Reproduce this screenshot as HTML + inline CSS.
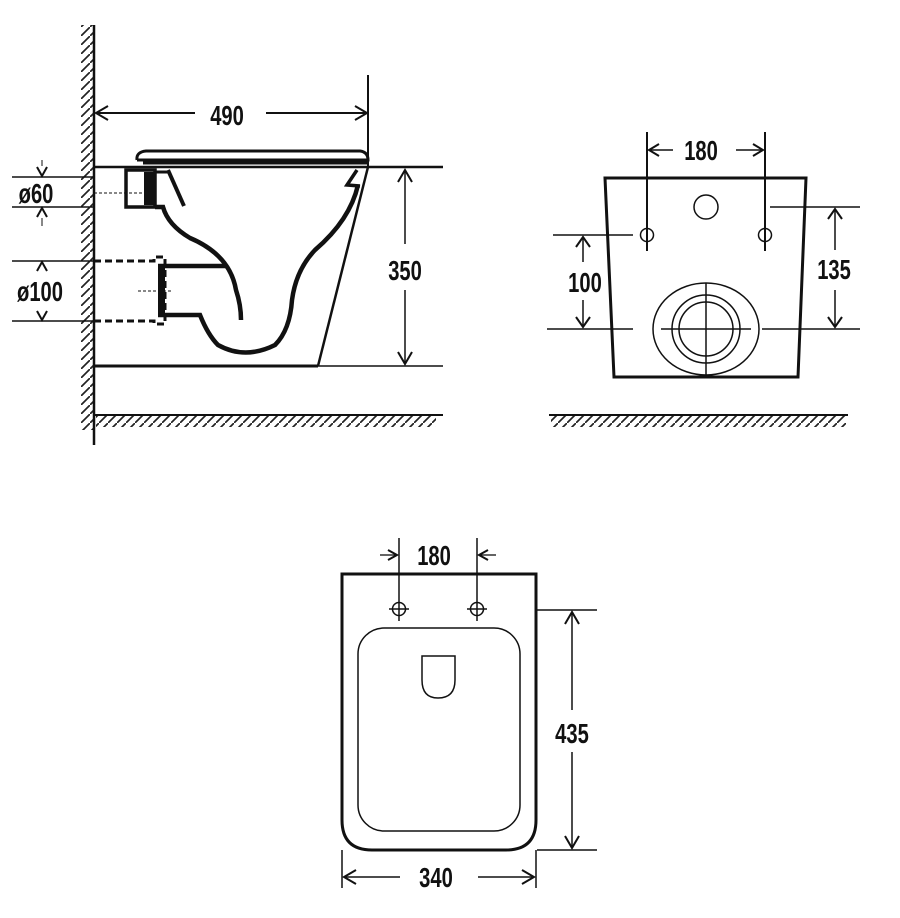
<!DOCTYPE html>
<html><head><meta charset="utf-8"><style>
html,body{margin:0;padding:0;background:#fff;}
svg{display:block}
text{font-family:"Liberation Sans Narrow","Liberation Sans",sans-serif;font-weight:bold;fill:#111;}
</style></head><body>
<svg width="900" height="918" viewBox="0 0 900 918" xmlns="http://www.w3.org/2000/svg">
<defs>
<pattern id="hv" width="9" height="9" patternUnits="userSpaceOnUse">
<line x1="0" y1="9" x2="9" y2="0" stroke="#222" stroke-width="1.7"/>
</pattern>
</defs>
<g stroke="#111" fill="none">
<!-- SIDE VIEW -->
<rect x="81" y="25" width="13" height="405" fill="url(#hv)" stroke="none"/>
<line x1="94" y1="25" x2="94" y2="445" stroke-width="2.5"/>
<rect x="96" y="416" width="340" height="11" fill="url(#hv)" stroke="none"/>
<line x1="94" y1="415" x2="443" y2="415" stroke-width="2"/>
<line x1="368" y1="75" x2="368" y2="167" stroke-width="2"/>
<line x1="96" y1="113" x2="195" y2="113" stroke-width="2"/>
<line x1="266" y1="113" x2="366" y2="113" stroke-width="2"/>
<polyline points="108,106 96,113 108,120" stroke-width="2"/>
<polyline points="355,106 367,113 355,120" stroke-width="2"/>
<line x1="94" y1="167" x2="443" y2="167" stroke-width="2.5"/>
<line x1="94" y1="366" x2="318" y2="366" stroke-width="3"/>
<line x1="318" y1="366" x2="443" y2="366" stroke-width="1.5"/>
<line x1="368" y1="167" x2="318" y2="366" stroke-width="2.5"/>
<path d="M137,160 Q136,152 146,151 L360,151 Q368,152 368,160 L137,160" stroke-width="3"/>
<line x1="143" y1="163" x2="367" y2="163" stroke-width="3"/>
<rect x="126" y="170" width="29" height="37" stroke-width="3.5"/>
<rect x="144" y="172" width="10" height="33" fill="#111" stroke="none"/>
<line x1="155" y1="172" x2="168" y2="172" stroke-width="3"/>
<line x1="168" y1="170" x2="184" y2="206" stroke-width="4"/>
<line x1="94" y1="193" x2="144" y2="193" stroke-width="1" stroke-dasharray="3,2"/>
<path d="M155,207 L163,207 Q168,225 190,238 Q230,255 236,290 Q241,305 241,320" stroke-width="4.5"/>
<path d="M158,266 L226,266" stroke-width="4.5"/>
<path d="M158,315 L200,315 Q208,335 218,345 Q245,360 275,345 Q290,330 292,300 Q296,270 315,250 Q350,220 358,185" stroke-width="4.5"/>
<path d="M357,170 L347,185 L360,186" stroke-width="3.5"/>
<rect x="158" y="266" width="7" height="49" fill="#111" stroke="none"/>
<path d="M94,261 L154,261 L154,257 L165,257 L165,324 L154,324 L154,321 L94,321" stroke-width="3" stroke-dasharray="7,4"/>
<line x1="138" y1="291" x2="172" y2="291" stroke-width="1" stroke-dasharray="3,2"/>
<line x1="12" y1="177" x2="94" y2="177" stroke-width="1.5"/>
<line x1="12" y1="207" x2="94" y2="207" stroke-width="1.5"/>
<line x1="12" y1="261" x2="94" y2="261" stroke-width="1.5"/>
<line x1="12" y1="321" x2="94" y2="321" stroke-width="1.5"/>
<polyline points="37,167 42,176 47,167" stroke-width="2"/>
<polyline points="37,217 42,208 47,217" stroke-width="2"/>
<polyline points="37,271 42,262 47,271" stroke-width="2"/>
<polyline points="37,311 42,320 47,311" stroke-width="2"/>
<line x1="42" y1="160" x2="42" y2="166" stroke-width="1"/>
<line x1="42" y1="218" x2="42" y2="226" stroke-width="1"/>
<line x1="405" y1="170" x2="405" y2="244" stroke-width="1.5"/>
<line x1="405" y1="290" x2="405" y2="364" stroke-width="1.5"/>
<polyline points="398,182 405,170 412,182" stroke-width="2"/>
<polyline points="398,352 405,364 412,352" stroke-width="2"/>

<!-- FRONT VIEW -->
<polygon points="605,178 806,178 798,377 614,377" stroke-width="3"/>
<circle cx="706" cy="207" r="12" stroke-width="1.5"/>
<circle cx="647" cy="235" r="6.5" stroke-width="1.5"/>
<circle cx="765" cy="235" r="6.5" stroke-width="1.5"/>
<ellipse cx="706" cy="329" rx="53" ry="46" stroke-width="1.5"/>
<circle cx="706" cy="329" r="34" stroke-width="1.5"/>
<circle cx="706" cy="329" r="27" stroke-width="1.5"/>
<line x1="706" y1="283" x2="706" y2="375" stroke-width="1.5"/>
<line x1="661" y1="329" x2="751" y2="329" stroke-width="1.5"/>
<line x1="647" y1="132" x2="647" y2="251" stroke-width="2"/>
<line x1="765" y1="132" x2="765" y2="251" stroke-width="2"/>
<line x1="650" y1="150" x2="673" y2="150" stroke-width="1.5"/>
<line x1="736" y1="150" x2="762" y2="150" stroke-width="1.5"/>
<polyline points="659,144 649,150 659,156" stroke-width="2"/>
<polyline points="753,144 763,150 753,156" stroke-width="2"/>
<line x1="553" y1="235" x2="633" y2="235" stroke-width="1.5"/>
<line x1="547" y1="329" x2="633" y2="329" stroke-width="1.5"/>
<line x1="762" y1="329" x2="860" y2="329" stroke-width="1.5"/>
<line x1="770" y1="207" x2="860" y2="207" stroke-width="1.5"/>
<line x1="583" y1="237" x2="583" y2="262" stroke-width="1.5"/>
<line x1="583" y1="300" x2="583" y2="327" stroke-width="1.5"/>
<polyline points="576,247 583,237 590,247" stroke-width="2"/>
<polyline points="576,317 583,327 590,317" stroke-width="2"/>
<line x1="835" y1="209" x2="835" y2="250" stroke-width="1.5"/>
<line x1="835" y1="290" x2="835" y2="327" stroke-width="1.5"/>
<polyline points="828,219 835,209 842,219" stroke-width="2"/>
<polyline points="828,317 835,327 842,317" stroke-width="2"/>
<rect x="551" y="416" width="295" height="11" fill="url(#hv)" stroke="none"/>
<line x1="549" y1="415" x2="848" y2="415" stroke-width="2"/>

<!-- TOP VIEW -->
<path d="M342,574 L536,574 L536,820 Q536,850 506,850 L372,850 Q342,850 342,820 Z" stroke-width="3"/>
<rect x="358" y="628" width="162" height="203" rx="26" stroke-width="1.5"/>
<path d="M422,656 L455,656 L455,680 Q455,698 438,698 Q422,698 422,680 Z" stroke-width="1.5"/>
<circle cx="399" cy="609" r="6.5" stroke-width="1.5"/>
<circle cx="477" cy="609" r="6.5" stroke-width="1.5"/>
<line x1="389" y1="609" x2="409" y2="609" stroke-width="1.5"/>
<line x1="467" y1="609" x2="487" y2="609" stroke-width="1.5"/>
<line x1="399" y1="538" x2="399" y2="621" stroke-width="1.5"/>
<line x1="477" y1="538" x2="477" y2="621" stroke-width="1.5"/>
<line x1="380" y1="555" x2="396" y2="555" stroke-width="1.3"/>
<line x1="480" y1="555" x2="496" y2="555" stroke-width="1.3"/>
<polyline points="388,550 397,555 388,560" stroke-width="2"/>
<polyline points="488,550 479,555 488,560" stroke-width="2"/>
<line x1="537" y1="610" x2="597" y2="610" stroke-width="1.5"/>
<line x1="537" y1="850" x2="597" y2="850" stroke-width="1.5"/>
<line x1="572" y1="612" x2="572" y2="710" stroke-width="1.5"/>
<line x1="572" y1="752" x2="572" y2="848" stroke-width="1.5"/>
<polyline points="565,624 572,612 579,624" stroke-width="2"/>
<polyline points="565,836 572,848 579,836" stroke-width="2"/>
<line x1="342" y1="850" x2="342" y2="888" stroke-width="1.5"/>
<line x1="536" y1="850" x2="536" y2="888" stroke-width="1.5"/>
<line x1="344" y1="877" x2="400" y2="877" stroke-width="1.5"/>
<line x1="478" y1="877" x2="534" y2="877" stroke-width="1.5"/>
<polyline points="356,870 344,877 356,884" stroke-width="2"/>
<polyline points="522,870 534,877 522,884" stroke-width="2"/>
</g>
<g font-size="28" text-anchor="middle">
<text x="227" y="125" transform="translate(227,125) scale(0.72,1) translate(-227,-125)">490</text>
<text x="405" y="280" transform="translate(405,280) scale(0.72,1) translate(-405,-280)">350</text>
<text x="36" y="203" transform="translate(36,203) scale(0.72,1) translate(-36,-203)">ø60</text>
<text x="40" y="301" transform="translate(40,301) scale(0.72,1) translate(-40,-301)">ø100</text>
<text x="701" y="160" transform="translate(701,160) scale(0.72,1) translate(-701,-160)">180</text>
<text x="585" y="292" transform="translate(585,292) scale(0.72,1) translate(-585,-292)">100</text>
<text x="834" y="279" transform="translate(834,279) scale(0.72,1) translate(-834,-279)">135</text>
<text x="434" y="565" transform="translate(434,565) scale(0.72,1) translate(-434,-565)">180</text>
<text x="572" y="743" transform="translate(572,743) scale(0.72,1) translate(-572,-743)">435</text>
<text x="436" y="887" transform="translate(436,887) scale(0.72,1) translate(-436,-887)">340</text>
</g>
</svg>
</body></html>
